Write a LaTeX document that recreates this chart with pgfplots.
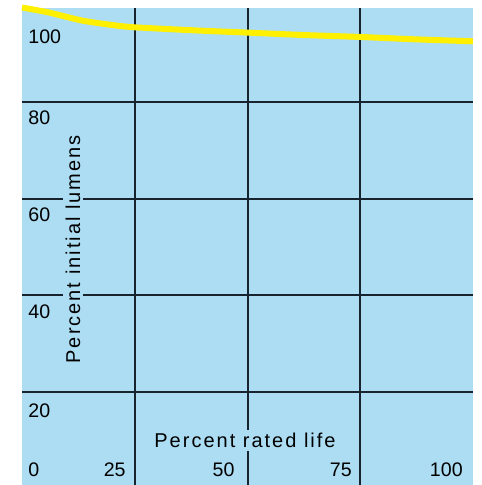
\documentclass[border=0pt]{standalone}
\usepackage{fontspec}
\setmainfont{Liberation Sans}
\usepackage{pgfplots}
\pgfplotsset{compat=1.18}
\definecolor{bgblue}{RGB}{172,221,243}
\definecolor{curveyellow}{RGB}{255,240,0}
\definecolor{gridc}{RGB}{25,35,45}
\newfontfamily\lblfont[LetterSpace=10]{Liberation Sans}
\begin{document}
\begin{tikzpicture}
\begin{axis}[name=ax, set layers=standard, scale only axis, width=225.5pt, height=238.5pt,
  xmin=0, xmax=100, ymin=0.7, ymax=99.5,
  axis line style={draw=none},
  axis background/.style={fill=bgblue},
  xtick={25,50,75}, ytick={20,40,60,80},
  xticklabels={}, yticklabels={},
  major tick length=0pt,
  grid=major, major grid style={draw=gridc, line width=1.0pt},
  clip=false]
\addplot[curveyellow, line width=3pt, smooth, tension=0.4] coordinates {
  (0,99.6) (5.8,98.6) (13.3,96.9) (20.6,95.9) (25,95.5) (37.5,94.9) (50,94.4) (62.5,93.9) (75,93.5) (87.5,93.0) (100,92.6)};
\begin{scope}[every node/.style={font=\fontsize{9.8}{11}\selectfont, inner sep=0pt, text=black}]
\node[anchor=north west] at (axis cs:1.33,95.0) {100};
\node[anchor=north west] at (axis cs:1.33,78.3) {80};
\node[anchor=north west] at (axis cs:1.33,58.2) {60};
\node[anchor=north west] at (axis cs:1.33,38.2) {40};
\node[anchor=north west] at (axis cs:1.33,17.7) {20};
\node[anchor=base west] at (axis cs:1.33,2.36) {0};
\node[anchor=base east] at (axis cs:23.06,2.36) {25};
\node[anchor=base east] at (axis cs:47.2,2.36) {50};
\node[anchor=base east] at (axis cs:73.2,2.36) {75};
\node[anchor=base east] at (axis cs:97.8,2.36) {100};
\end{scope}
\node[anchor=base, fill=bgblue, inner sep=1.5pt, font=\lblfont\fontsize{10}{12}\selectfont] at (axis cs:49.45,8.42) {Percent rated life};
\node[anchor=base, rotate=90, fill=bgblue, inner sep=1.5pt, font=\lblfont\fontsize{10}{12}\selectfont] at (axis cs:12.86,49.5) {Percent initial lumens};
\end{axis}
\pgfresetboundingbox
\path[use as bounding box] ([xshift=-11pt]ax.south west) rectangle ([xshift=4pt,yshift=4pt]ax.north east);
\end{tikzpicture}
\end{document}
